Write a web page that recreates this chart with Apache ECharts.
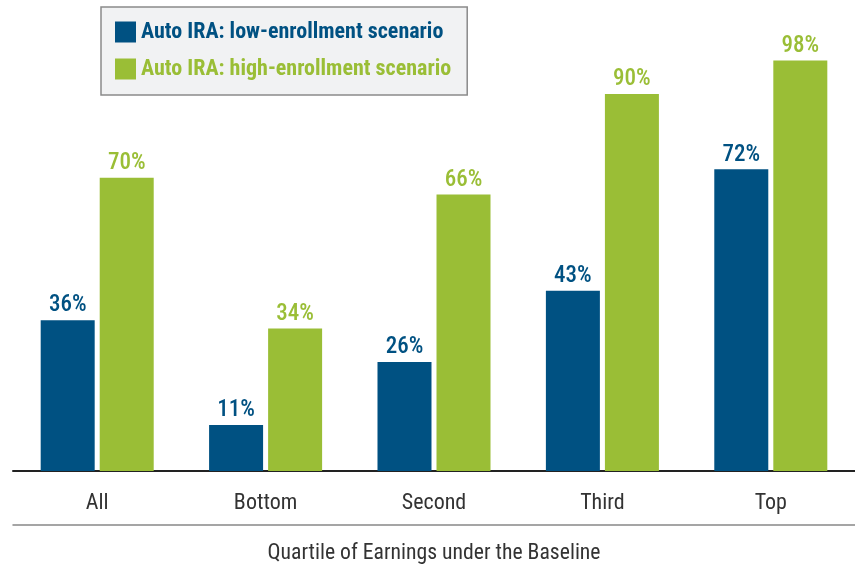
<!DOCTYPE html>
<html><head><meta charset="utf-8">
<script src="https://cdn.jsdelivr.net/npm/echarts@6/dist/echarts.min.js"></script>
<style>html,body{margin:0;padding:0;background:#fff}#c{width:855px;height:565px}</style>
</head><body><div id="c"></div>
<script>
const categories = ['All', 'Bottom', 'Second', 'Third', 'Top'];
const lowEnrollment = [36, 11, 26, 43, 72];
const highEnrollment = [70, 34, 66, 90, 98];
const seriesNames = ['Auto IRA: low-enrollment scenario', 'Auto IRA: high-enrollment scenario'];
const axisTitle = 'Quartile of Earnings under the Baseline';

const BLUE = '#005182', GREEN = '#9abe36';
const FONT = '"Roboto Condensed", "Liberation Sans Narrow", sans-serif';
const chart = echarts.init(document.getElementById('c'), null, {renderer: 'canvas'});
chart.setOption({
  animation: false,
  legend: {
    left: 101, top: 7,
    orient: 'vertical', padding: [14, 16, 15, 14],
    backgroundColor: '#f1f2f3', borderColor: '#8a8a8a', borderWidth: 1.5,
    itemWidth: 21, itemHeight: 21, itemGap: 15, itemTextGap: 9, icon: 'rect',
    textStyle: {fontFamily: FONT, fontSize: 22, fontWeight: 'bold', lineHeight: 21},
    data: [
      {name: seriesNames[0], textStyle: {color: BLUE}},
      {name: seriesNames[1], textStyle: {color: GREEN}}
    ]
  },
  grid: {left: 13, right: 0, top: 52, height: 419, containLabel: false, outerBoundsMode: 'none'},
  xAxis: [{
    type: 'category', data: categories,
    axisLine: {lineStyle: {color: '#222', width: 2}},
    axisTick: {show: false},
    axisLabel: {fontFamily: FONT, fontSize: 22, color: '#333', margin: 21}
  }, {
    type: 'category', data: categories, position: 'bottom', offset: 54,
    axisLine: {lineStyle: {color: '#888', width: 1.5}},
    axisTick: {show: false}, axisLabel: {show: false},
    name: axisTitle, nameLocation: 'middle', nameGap: 18,
    nameTextStyle: {fontFamily: FONT, fontSize: 21.7, color: '#333'}
  }],
  yAxis: {type: 'value', min: 0, max: 100, show: false, splitLine: {show: false}},
  series: [{
    name: seriesNames[0], type: 'bar', data: lowEnrollment,
    barWidth: 54, barGap: '9.3%', itemStyle: {color: BLUE},
    label: {show: true, position: 'top', distance: 3, formatter: '{c}%',
      fontFamily: FONT, fontSize: 23, fontWeight: 500, color: BLUE}
  }, {
    name: seriesNames[1], type: 'bar', data: highEnrollment,
    barWidth: 54, itemStyle: {color: GREEN},
    label: {show: true, position: 'top', distance: 3, formatter: '{c}%',
      fontFamily: FONT, fontSize: 23, fontWeight: 500, color: GREEN}
  }]
});
</script></body></html>
